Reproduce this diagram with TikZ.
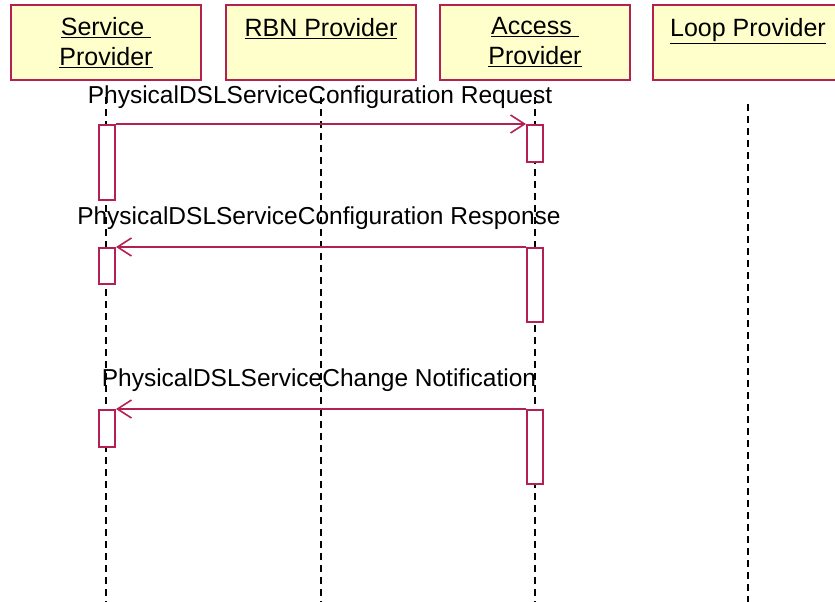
\documentclass[tikz,border=0pt]{standalone}
\usepackage{fontspec}
\setmainfont{Liberation Sans}
\usetikzlibrary{arrows.meta}
\definecolor{umlred}{RGB}{180,32,80}
\definecolor{umlyellow}{RGB}{255,255,204}
\newcommand{\headbox}[4]{\node[head] (#1) at (#2,-42.5) {#3};
        \draw[lifeline] (#2,#4) -- (#2,-602);}
\newcommand{\actbox}[4]{\node[act, minimum height=#4pt] (#1) at (#2,#3-#4/2) {};}

\begin{document}
\begin{tikzpicture}
                [x=1pt,y=1pt,
                head/.style={rectangle,draw=umlred,fill=umlyellow,line width=2pt,minimum width=190pt,minimum height=74pt,inner sep=0pt,anchor=center,align=center,font=\fontsize{25}{30}\selectfont},
                act/.style={rectangle,draw=umlred,fill=white,line width=2pt,minimum width=16pt,inner sep=0pt},
                lifeline/.style={black,line width=2pt,dash pattern=on 7pt off 5pt},
                msg/.style={umlred,line width=2pt,-{Straight Barb[length=14pt,width=18pt,line width=1.6pt]}},
                lbl/.style={font=\fontsize{24.5}{28}\selectfont,inner sep=0pt}
                ]
                \clip (0,0) rectangle (835,-602);
                \headbox{sp}{106}{\underline{Service\ }\\\underline{Provider}}{-97}
                \headbox{rbn}{321}{\underline{RBN Provider}\\\mbox{}}{-97}
                \headbox{ap}{535}{\underline{Access\ }\\\underline{Provider}}{-97}
                \headbox{lp}{748}{\underline{Loop Provider}\\\mbox{}}{-104}
                % activations
                \actbox{sp1}{107}{-125}{75}	\actbox{ap1}{535}{-125}{37}
                \actbox{sp2}{107}{-248}{36}	\actbox{ap2}{535}{-248}{74}
                \actbox{sp3}{107}{-410}{37}	\actbox{ap3}{535}{-410}{74}
                % messages
                \draw[msg] (sp1.north east) -- (ap1.north west);
                \draw[msg] (ap2.north west) -- (sp2.north east);
                \draw[msg] (ap3.north west) -- (sp3.north east);
                \node[lbl] (m1) at (320,-97) {PhysicalDSLServiceConfiguration Request};
                \node[lbl] (m2) at (319,-218) {PhysicalDSLServiceConfiguration Response};
                \node[lbl] (m3) at (319,-380) {PhysicalDSLServiceChange Notification};
            \end{tikzpicture}
\end{document}
